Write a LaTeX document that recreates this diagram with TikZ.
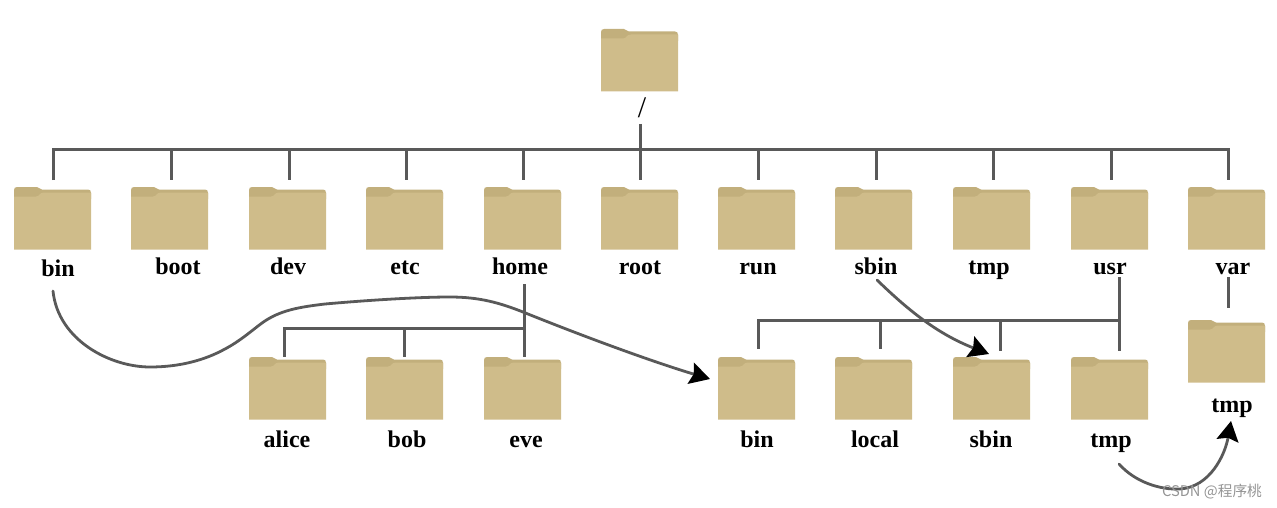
\documentclass[tikz,border=0pt]{standalone}
\usepackage{fontspec}
\setmainfont{Liberation Serif}
\newfontfamily\wmfont{Noto Sans CJK SC}
\usetikzlibrary{arrows.meta}
\definecolor{fbody}{HTML}{CFBC8A}
\definecolor{ftab}{HTML}{C2AF7C}
\definecolor{conn}{HTML}{595959}
\tikzset{
  x=1pt,y=-1pt,
  folderbox/.style={minimum width=77pt,minimum height=62pt,inner sep=0pt,outer sep=0pt},
  lbl/.style={font=\fontsize{24}{26}\selectfont\bfseries,text=black,inner sep=0pt,anchor=base},
  tree/.style={draw=conn,line width=3pt},
  curvy/.style={draw=conn,line width=2.8pt,line cap=round,-{Stealth[length=20pt,width=22pt,inset=3pt,black]}},
}
\newcommand{\folder}[3]{%
  \fill[ftab] (#2,#3+9) -- (#2,#3+3) .. controls (#2,#3+1) and (#2+1,#3) .. (#2+3,#3) -- (#2+23,#3) .. controls (#2+25.5,#3) and (#2+25,#3+2.5) .. (#2+28,#3+2.5) -- (#2+74,#3+2.5) .. controls (#2+76,#3+2.5) and (#2+77,#3+3.5) .. (#2+77,#3+6) -- (#2+77,#3+12) -- (#2,#3+12) -- cycle;
  \fill[fbody] (#2,#3+9.5) -- (#2+22,#3+9.5) .. controls (#2+26,#3+9.5) and (#2+25,#3+5.5) .. (#2+30,#3+5.5) -- (#2+77,#3+5.5) -- (#2+77,#3+62.5) -- (#2,#3+62.5) -- cycle;
  \node[folderbox] (#1) at (#2+38.5,#3+31) {};
}
\begin{document}
\begin{tikzpicture}
\useasboundingbox (0,0) rectangle (1277,508);
\folder{root}{601}{29}
\folder{fbin}{14}{187}
\folder{fboot}{131}{187}
\folder{fdev}{249}{187}
\folder{fetc}{366}{187}
\folder{fhome}{484}{187}
\folder{froot}{601}{187}
\folder{frun}{718}{187}
\folder{fsbin}{835}{187}
\folder{ftmp}{953}{187}
\folder{fusr}{1071}{187}
\folder{fvar}{1188}{187}
\folder{alice}{249}{357}
\folder{bob}{366}{357}
\folder{eve}{484}{357}
\folder{ubin}{718}{357}
\folder{ulocal}{835}{357}
\folder{usbin}{953}{357}
\folder{utmp}{1071}{357}
\folder{vtmp}{1188}{320}

\node[inner sep=0pt,font=\fontsize{30}{32}\selectfont] (lroot) at (642,108) {/};
\node[lbl] (lbin) at (58,276) {bin};
\node[lbl] (lboot) at (178,274) {boot};
\node[lbl] (ldev) at (288,274) {dev};
\node[lbl] (letc) at (405,274) {etc};
\node[lbl] (lhome) at (520,274) {home};
\node[lbl] (lrootd) at (640,274) {root};
\node[lbl] (lrun) at (758,274) {run};
\node[lbl] (lsbin) at (876,274) {sbin};
\node[lbl] (ltmp) at (989,274) {tmp};
\node[lbl] (lusr) at (1110,274) {usr};
\node[lbl] (lvar) at (1233,274) {var};
\node[lbl] (lalice) at (287,447) {alice};
\node[lbl] (lbob) at (407,447) {bob};
\node[lbl] (leve) at (526,447) {eve};
\node[lbl] (lubin) at (757,447) {bin};
\node[lbl] (lulocal) at (875,447) {local};
\node[lbl] (lusbin) at (991,447) {sbin};
\node[lbl] (lutmp) at (1111,447) {tmp};
\node[lbl] (lvtmp) at (1232,412) {tmp};

% main bus
\coordinate (rs) at (640,124);
\coordinate (bl) at (53,150);
\coordinate (br) at (1228,150);
\draw[tree] (rs) -- ([xshift=.5pt,yshift=7pt]froot.north);
\draw[tree] ([xshift=.5pt,yshift=7pt]fbin.north) -- (bl) -- (br) -- ([xshift=1.5pt,yshift=7pt]fvar.north);
\foreach \n/\dx in {fboot/1.5,fdev/1.5,fetc/1.5,fhome/.5,frun/1.5,fsbin/2.5,ftmp/1.5,fusr/1.5}
  \draw[tree] ([xshift=\dx pt]\n.north |- bl) -- ([xshift=\dx pt,yshift=7pt]\n.north);

% home subtree
\coordinate (hs) at (524,284);
\coordinate (hb) at (524,328);
\draw[tree] (hs) -- ([xshift=1.5pt]eve.north);
\draw[tree] (hb) -| ([xshift=-3.5pt]alice.north);
\draw[tree] ([xshift=-0.5pt]bob.north |- hb) -- ([xshift=-0.5pt]bob.north);

% usr subtree
\coordinate (us) at (1119,277);
\coordinate (ub) at (1119,320);
\draw[tree] (us) -- ([xshift=9.5pt,yshift=6pt]utmp.north);
\draw[tree] (ub) -| ([xshift=1.5pt,yshift=8pt]ubin.north);
\draw[tree] ([xshift=6.5pt]ulocal.north |- ub) -- ([xshift=6.5pt,yshift=8pt]ulocal.north);
\draw[tree] ([xshift=8.5pt]usbin.north |- ub) -- ([xshift=8.5pt,yshift=6pt]usbin.north);

% var subtree
\coordinate (vs) at (1228,277);
\draw[tree] (vs) -- ([xshift=1.5pt,yshift=12pt]vtmp.north);

% curved links
\coordinate (c1s) at (53,291);
\coordinate (c1e) at (710,379);
\draw[curvy] (c1s) .. controls (58,340) and (110,367) .. (150,367)
  .. controls (180,367) and (205,360) .. (225,349)
  .. controls (240,341) and (250,332) .. (262,323)
  .. controls (280,310) and (300,307) .. (325,304)
  .. controls (370,300) and (420,297) .. (450,297)
  .. controls (480,297) and (500,303) .. (523,312)
  .. controls (580,335) and (650,361) .. (c1e);
\coordinate (c2s) at (877,280);
\coordinate (c2e) at (989,354);
\draw[curvy] (c2s) .. controls (905,307) and (935,333) .. (c2e);
\coordinate (c3s) at (1119,464);
\coordinate (c3e) at (1231,421);
\draw[curvy] (c3s) .. controls (1135,482) and (1160,490) .. (1180,489)
  .. controls (1210,487) and (1225,455) .. (c3e);

\node[inner sep=0pt,text=black!42,font=\wmfont\fontsize{14.7}{16}\selectfont] (wm) at (1212,492) {CSDN @程序桃};
\end{tikzpicture}
\end{document}
